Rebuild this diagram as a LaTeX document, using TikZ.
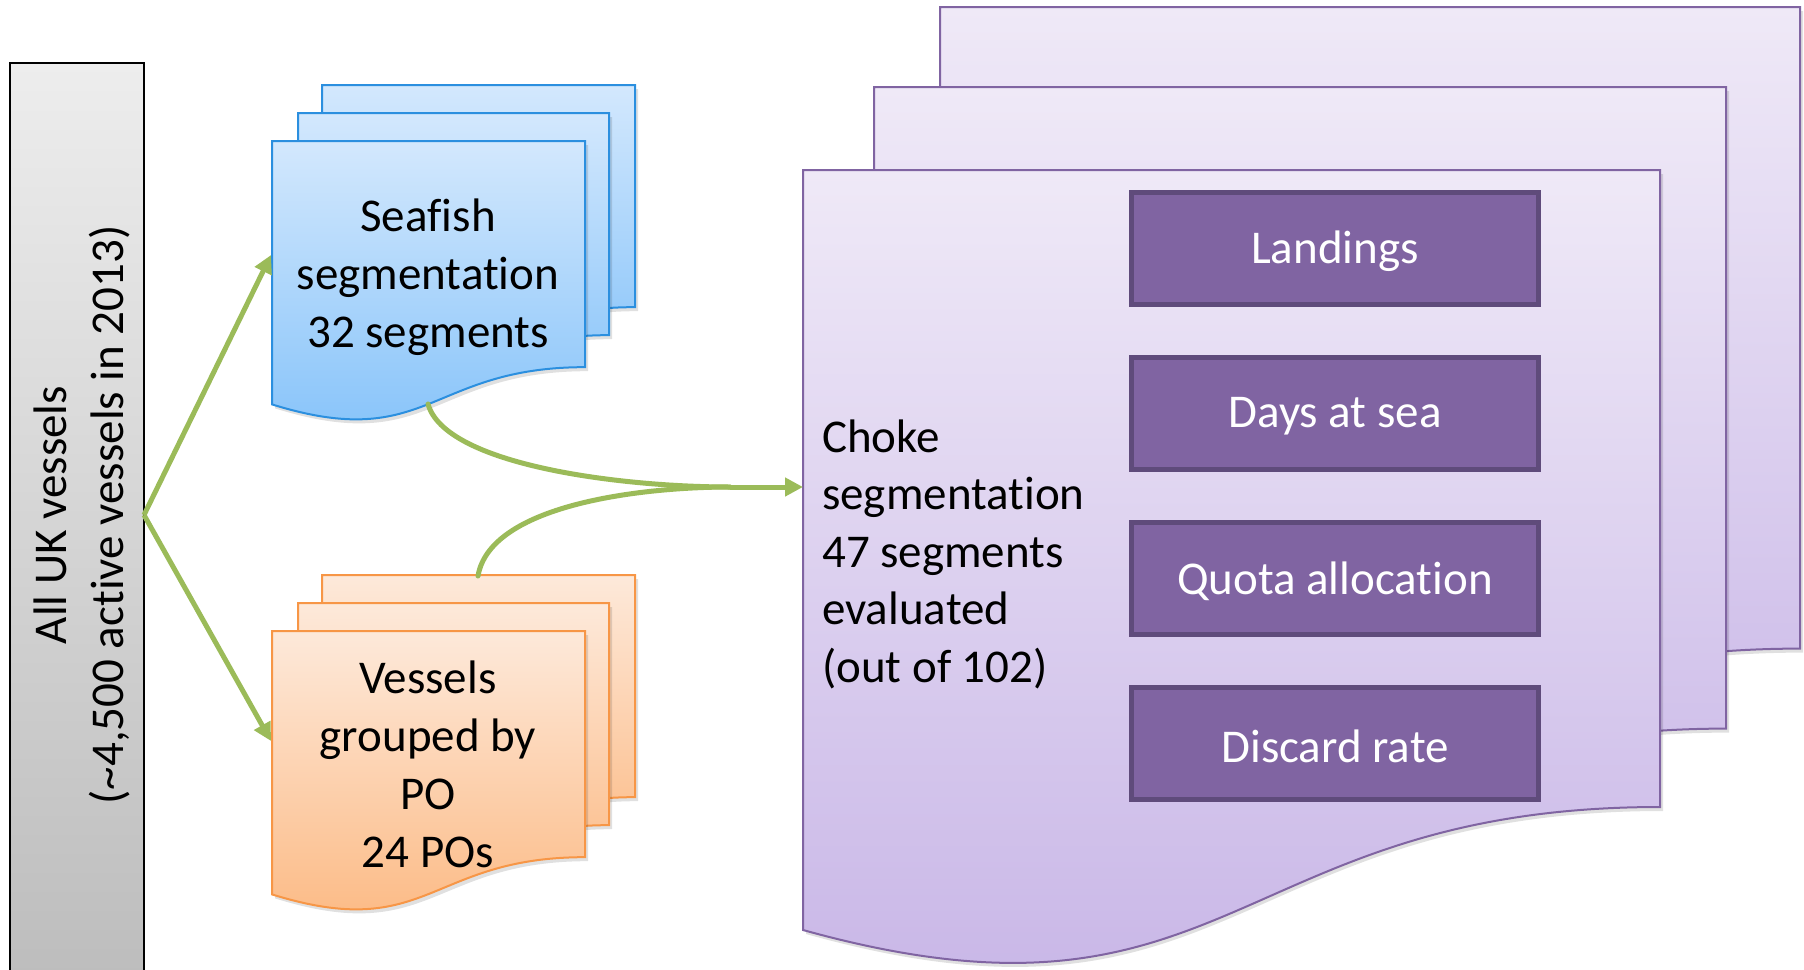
\documentclass[tikz,border=0pt]{standalone}
\usepackage{fontspec}
\setmainfont{Carlito}[RawFeature={-liga;-clig}]
\usetikzlibrary{arrows.meta}
\definecolor{grayT}{HTML}{EDEDED}
\definecolor{grayB}{HTML}{BDBDBD}
\definecolor{blueT}{HTML}{D3E8FD}
\definecolor{blueB}{HTML}{82C1F9}
\definecolor{blueL}{HTML}{2B8FDF}
\definecolor{orT}{HTML}{FDE9DA}
\definecolor{orB}{HTML}{FCB77F}
\definecolor{orL}{HTML}{F79646}
\definecolor{puT}{HTML}{EFE9F7}
\definecolor{puB}{HTML}{C6B3E6}
\definecolor{puL}{HTML}{8064A2}
\definecolor{puFill}{HTML}{8064A2}
\definecolor{puDark}{HTML}{5F4B7B}
\definecolor{arrG}{HTML}{9BBB59}
% document shape: style, x, y, w, h
\newcommand{\docshape}[5]{%
  \path[#1] (#2,#3) -- ({#2+#4},#3) -- ({#2+#4},{#3+0.802*#5})
    .. controls ({#2+0.5*#4},{#3+0.802*#5}) and ({#2+0.5*#4},{#3+1.107*#5}) ..
    (#2,{#3+0.934*#5}) -- cycle;}
\tikzset{
  bluedoc/.style={draw=blueL, line width=2pt, top color=blueT, bottom color=blueB},
  oradoc/.style={draw=orL, line width=2pt, top color=orT, bottom color=orB},
  purdoc/.style={draw=puL, line width=2pt, top color=puT, bottom color=puB},
  shadowdoc/.style={fill=black, opacity=0.12},
  bigtxt/.style={font=\fontsize{47}{58}\selectfont, align=center, inner sep=0pt},
  ibox/.style={draw=puDark, line width=5pt, fill=puFill, minimum width=407pt,
    minimum height=112pt, inner sep=0pt},
  iboxlabel/.style={text=white, inner sep=0pt, font=\fontsize{47}{58}\selectfont},
  grn/.style={draw=arrG, line width=5pt, -{Triangle[length=18pt,width=18pt]}},
  grnplain/.style={draw=arrG, line width=5pt},
}
\begin{document}
\begin{tikzpicture}[x=1pt,y=-1pt]
\useasboundingbox (0,0) rectangle (1804,969);

% purple stack
\docshape{shadowdoc}{943}{11}{860}{800}
\docshape{purdoc}{940}{7}{860}{800}
\docshape{shadowdoc}{877}{91}{852}{800}
\docshape{purdoc}{874}{87}{852}{800}
\path[shadowdoc] (806,174) -- (1663,174) -- (1663,811)
   .. controls (1232,811) and (1232,1053) .. (806,934) -- cycle;
\path[purdoc] (803,170) -- (1660,170) -- (1660,807)
   .. controls (1231,807) and (1231,1049) .. (803,930) -- cycle;

\node[ibox] (land) at (1335,248) {};
\node[ibox] (days) at (1335,413) {};
\node[ibox] (quota) at (1335,578) {};
\node[ibox] (disc) at (1335,743) {};
\node[iboxlabel] (landt) at ([yshift=-3pt]land.center) {Landings};
\node[iboxlabel] (dayst) at ([yshift=-3pt]days.center) {Days at sea};
\node[iboxlabel] (quotat) at ([yshift=-3pt]quota.center) {Quota allocation};
\node[iboxlabel] (disct) at ([yshift=-3pt]disc.center) {Discard rate};

\node[bigtxt, align=left, anchor=west, font=\fontsize{47}{57.5}\selectfont] (choke) at (822,554)
  {Choke\\segmentation\\47 segments\\evaluated\\(out of 102)};

% blue stack
\docshape{shadowdoc}{325}{89}{313}{277}
\docshape{bluedoc}{322}{85}{313}{277}
\docshape{shadowdoc}{301}{117}{311}{277}
\docshape{bluedoc}{298}{113}{311}{277}
\docshape{shadowdoc}{275}{145}{313}{282}
\docshape{bluedoc}{272}{141}{313}{282}
\node[bigtxt] (seafish) at (428,277) {Seafish\\segmentation\\32 segments};

% orange stack
\docshape{shadowdoc}{325}{579}{313}{277}
\docshape{oradoc}{322}{575}{313}{277}
\docshape{shadowdoc}{301}{607}{311}{277}
\docshape{oradoc}{298}{603}{311}{277}
\docshape{shadowdoc}{275}{635}{313}{282}
\docshape{oradoc}{272}{631}{313}{282}
\node[bigtxt] (po) at (428,764) {Vessels\\grouped by\\PO\\24 POs};

% gray box
\node[draw=black, line width=2pt, top color=grayT, bottom color=grayB,
  minimum width=134pt, minimum height=915pt, inner sep=0pt] (all) at (77,520) {};
\node[bigtxt, rotate=90, font=\fontsize{47}{57}\selectfont] (alltxt) at (82,515)
  {All UK vessels\\(\textasciitilde4,500 active vessels in 2013)};

% connectors
\coordinate (src) at (144,515);
\coordinate (sfin) at (271,255);
\coordinate (poin) at (271,741);
\coordinate (sfout) at (428,404);
\coordinate (poout) at (478,576);
\coordinate (chin) at (803,487);
\coordinate (merge) at (730,487);

\draw[grn] (src) -- (sfin);
\draw[grn] (src) -- (poin);
\draw[grnplain, line cap=round] (sfout) .. controls (445,465) and (620,487) .. (merge);
\draw[grnplain, line cap=round] (poout) .. controls (490,505) and (640,487) .. (merge);
\draw[grn] (merge) -- (chin);
\end{tikzpicture}
\end{document}
